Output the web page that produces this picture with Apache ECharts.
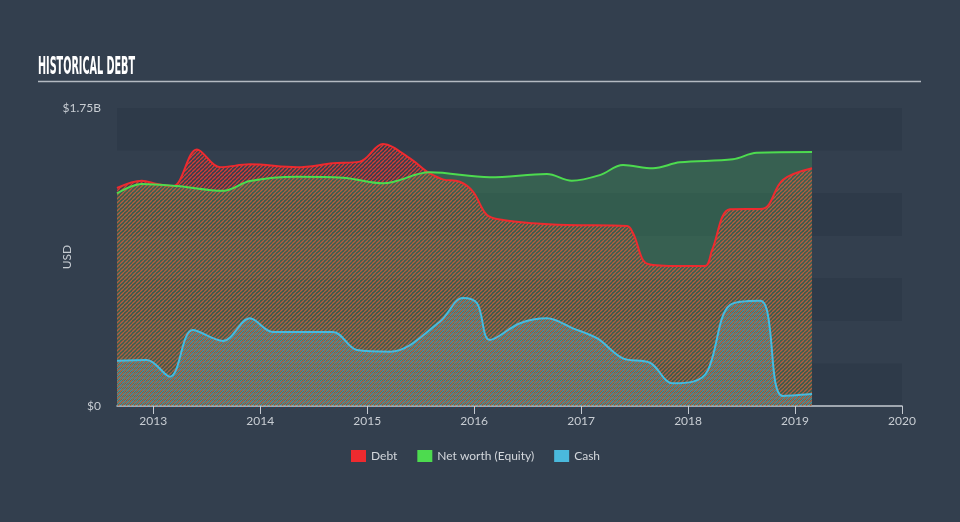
<!DOCTYPE html>
<html>
<head>
<meta charset="utf-8">
<script src="https://cdn.jsdelivr.net/npm/echarts@6/dist/echarts.min.js"></script>
<style>
html,body{margin:0;padding:0;background:#333f4e;}
#chart{width:960px;height:522px;}
</style>
</head>
<body>
<div id="chart"></div>
<script>
// ---- data (USD billions) ----
const debtDates = ['2012-08-30','2012-11-23','2013-01-14','2013-03-10','2013-05-30','2013-08-17','2013-11-27','2014-05-07','2014-09-06','2014-12-07','2015-02-24','2015-05-27','2015-07-24','2015-09-16','2015-11-13','2015-12-28','2016-02-14','2016-04-09','2016-07-20','2016-11-13','2017-06-07','2017-06-27','2017-08-17','2017-12-04','2018-02-28','2018-03-24','2018-05-24','2018-09-13','2018-11-20','2019-02-28'];
const debtValues = [1.280,1.323,1.304,1.292,1.507,1.402,1.419,1.402,1.425,1.435,1.538,1.454,1.376,1.331,1.317,1.259,1.122,1.092,1.073,1.063,1.057,1.016,0.834,0.822,0.822,0.916,1.155,1.159,1.327,1.396];

const equityDates = ['2012-08-30','2012-11-23','2013-03-22','2013-08-28','2013-11-27','2014-05-07','2014-10-10','2015-02-24','2015-08-03','2016-02-24','2016-09-06','2016-11-30','2017-03-06','2017-05-24','2017-09-03','2017-12-04','2018-06-03','2018-08-23','2019-02-28'];
const equityValues = [1.249,1.304,1.292,1.264,1.321,1.346,1.341,1.308,1.372,1.343,1.362,1.323,1.356,1.415,1.396,1.431,1.449,1.487,1.491];

const cashDates = ['2012-08-30','2012-12-10','2013-02-27','2013-05-16','2013-08-27','2013-11-27','2014-02-13','2014-09-06','2014-11-27','2015-03-20','2015-09-06','2015-11-23','2016-01-11','2016-02-24','2016-06-06','2016-09-06','2016-12-04','2017-02-24','2017-05-24','2017-08-24','2017-11-10','2018-01-18','2018-03-10','2018-05-24','2018-09-03','2018-09-27','2018-11-20','2019-02-28'];
const cashValues = [0.266,0.270,0.172,0.446,0.382,0.515,0.435,0.435,0.329,0.319,0.495,0.634,0.603,0.388,0.486,0.515,0.456,0.398,0.280,0.254,0.133,0.143,0.211,0.593,0.618,0.564,0.059,0.070];

const yearTicks = [2013,2014,2015,2016,2017,2018,2019,2020];
const seriesNames = ['Debt','Net worth (Equity)','Cash'];
const yTickLabels = {0:'$0', 1.75:'$1.75B'};

// ---- helpers ----
function yearFrac(s){
  const [y,m,d] = s.split('-').map(Number);
  const t0 = Date.UTC(y,0,1), t1 = Date.UTC(y+1,0,1);
  return y + (Date.UTC(y,m-1,d) - t0)/(t1 - t0);
}
function hatch(color, width, size, offset){
  const c = document.createElement('canvas');
  c.width = size; c.height = size;
  const g = c.getContext('2d');
  g.strokeStyle = color; g.lineWidth = width;
  for (let k = -2; k <= 2; k++){
    const o = k*size + offset;
    g.beginPath(); g.moveTo(o, size); g.lineTo(o+size, 0); g.stroke();
  }
  return c;
}
const pair = (d, v) => d.map((x,i)=>[yearFrac(x), v[i]]);

const titleFont = 'bold 24px "Liberation Sans Narrow", "DejaVu Sans Condensed", sans-serif';
const mc = document.createElement('canvas').getContext('2d');
mc.font = titleFont;
const titleScale = 97 / mc.measureText('HISTORICAL DEBT').width;

const chart = echarts.init(document.getElementById('chart'), null, {renderer:'canvas'});
chart.setOption({
  animation:false,
  backgroundColor:'#333f4e',
  textStyle:{fontFamily:'Lato, "Open Sans", sans-serif'},
  graphic:[
    {type:'text', x:38, y:68, scaleX:titleScale,
     style:{text:'HISTORICAL DEBT', font:titleFont, fill:'#ffffff', verticalAlign:'middle'}},
    {type:'line', shape:{x1:38, y1:81.5, x2:921, y2:81.5}, style:{stroke:'#b4bac2', lineWidth:1.5}}
  ],
  grid:{left:117, right:58, top:108, bottom:116, containLabel:false},
  legend:{
    data:seriesNames, top:445, left:346, icon:'rect', itemWidth:15, itemHeight:12, itemGap:20,
    textStyle:{color:'#d3d7dc', fontSize:12, fontFamily:'Lato, sans-serif'}
  },
  xAxis:{
    type:'value', min:yearFrac(debtDates[0]), max:2020,
    axisLine:{show:true, lineStyle:{color:'#c5cad1', width:1.5}},
    axisTick:{show:true, length:8, lineStyle:{color:'#c5cad1'}, customValues: yearTicks},
    axisLabel:{color:'#c8cdd3', fontSize:12, margin:9, customValues: yearTicks,
      formatter:(v)=>String(Math.round(v))},
    splitLine:{show:false}
  },
  yAxis:{
    type:'value', min:0, max:1.75, interval:0.25,
    name:'USD', nameLocation:'middle', nameGap:44, nameRotate:90, nameMoveOverlap:false,
    nameTextStyle:{color:'#c8cdd3', fontSize:12},
    axisLine:{show:false}, axisTick:{show:false},
    axisLabel:{color:'#c8cdd3', fontSize:12, margin:16,
      formatter:(v)=> yTickLabels[Math.round(v*100)/100] || ''},
    splitLine:{show:false},
    splitArea:{show:true, areaStyle:{color:['#2e3a49','rgba(0,0,0,0)']}}
  },
  series:[
    {name:seriesNames[0], type:'line', data:pair(debtDates, debtValues), smooth:0.35, showSymbol:false,
     itemStyle:{color:'#ee2a2f'}, lineStyle:{color:'#ee2a2f', width:2},
     areaStyle:{color:{image:hatch('rgba(238,60,50,0.85)',1.3,4,0), repeat:'repeat'}, opacity:1}},
    {name:seriesNames[1], type:'line', data:pair(equityDates, equityValues), smooth:0.35, showSymbol:false,
     itemStyle:{color:'#4ddb4f'}, lineStyle:{color:'#4ddb4f', width:2},
     areaStyle:{color:'rgba(72,214,96,0.22)', opacity:1}},
    {name:seriesNames[2], type:'line', data:pair(cashDates, cashValues), smooth:0.35, showSymbol:false,
     itemStyle:{color:'#4ab9dc'}, lineStyle:{color:'#4ab9dc', width:2},
     areaStyle:{color:{image:hatch('rgba(84,180,205,0.6)',1.3,4,2), repeat:'repeat'}, opacity:1}}
  ]
});
</script>
</body>
</html>
